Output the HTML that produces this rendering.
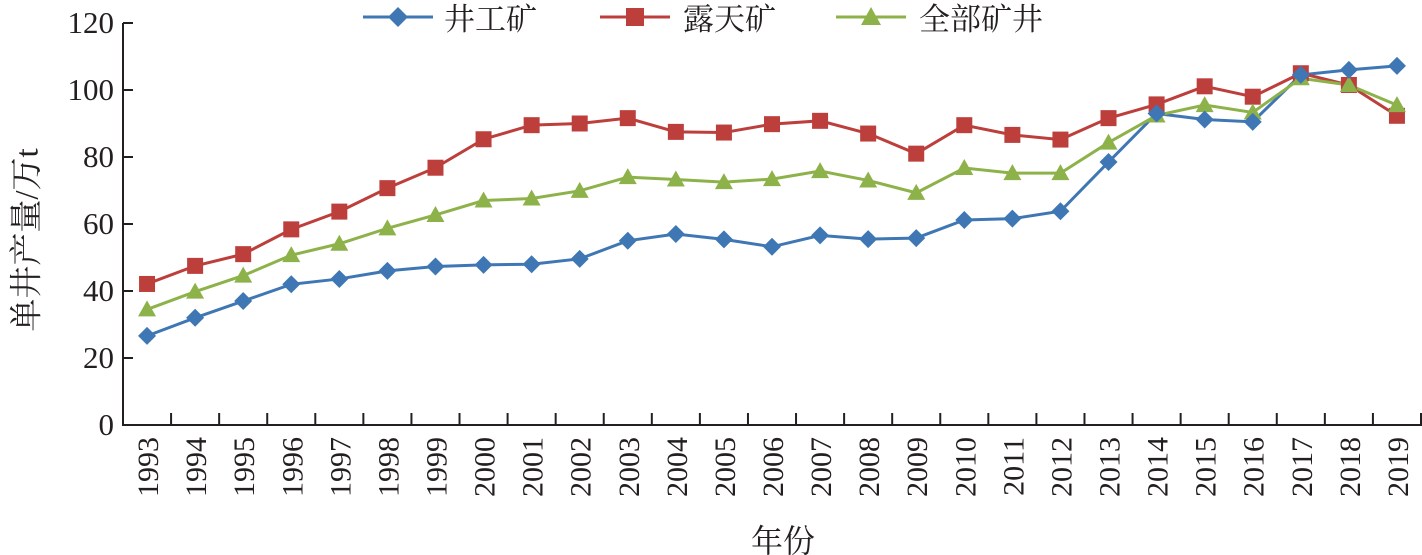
<!DOCTYPE html>
<html><head><meta charset="utf-8">
<style>
html,body{margin:0;padding:0;background:#fff;}
svg{display:block;}
text{font-family:"Liberation Serif","Noto Serif CJK SC",serif;fill:#231f20;}
</style></head>
<body>
<svg id="c" width="1422" height="555" viewBox="0 0 1422 555" xmlns="http://www.w3.org/2000/svg">
<line x1="123" y1="23" x2="123" y2="426" stroke="#231f20" stroke-width="2"/>
<line x1="122" y1="425" x2="1422" y2="425" stroke="#231f20" stroke-width="2"/>
<text x="30" y="240" font-size="33" text-anchor="middle" transform="rotate(-90 30 240)" dominant-baseline="middle">单井产量/万t</text>
<text x="783" y="552" font-size="32" text-anchor="middle">年份</text>
<g id="legend">
<line x1="363" y1="17" x2="433" y2="17" stroke="#3f77b5" stroke-width="3"/>
<polygon points="398,7 408,17 398,27 388,17" fill="#3f77b5"/>
<text x="444" y="30" font-size="31">井工矿</text>
<line x1="600" y1="17" x2="670" y2="17" stroke="#bd3f3c" stroke-width="3"/>
<rect x="626" y="8" width="18" height="18" fill="#bd3f3c"/>
<text x="683" y="30" font-size="31">露天矿</text>
<line x1="836" y1="17" x2="906" y2="17" stroke="#8db24a" stroke-width="3"/>
<polygon points="871,7 881,25 861,25" fill="#8db24a"/>
<text x="919" y="30" font-size="31">全部矿井</text>
</g>
</svg>
<script>
var s=document.getElementById('c'),ns='http://www.w3.org/2000/svg';
function el(t,a,txt){var e=document.createElementNS(ns,t);for(var k in a)e.setAttribute(k,a[k]);if(txt!=null)e.textContent=txt;s.appendChild(e);return e;}
var Y=function(v){return 425-v*3.35;};
var W=(1421-123)/27;
var X=function(i){return 123+W*(i+0.5);};
for(var v=0;v<=120;v+=20){var y=Y(v);if(v>0)el('line',{x1:123,y1:y,x2:133,y2:y,stroke:'#231f20','stroke-width':2});
el('text',{x:114,y:y+10,'font-size':31,'text-anchor':'end'},String(v));}
for(var i=1;i<=27;i++){var x=123+W*i;el('line',{x1:x,y1:413,x2:x,y2:425,stroke:'#231f20','stroke-width':2});}
for(var i=0;i<27;i++){var cx=X(i)+11;el('text',{x:0,y:0,'font-size':30,'text-anchor':'end',transform:'translate('+cx+' 437) rotate(-90)'},String(1993+i));}
var blue=[26.6,32,37,42,43.6,46,47.3,47.8,48,49.6,55,57,55.4,53.2,56.6,55.5,55.8,61.2,61.6,63.8,78.5,93,91.2,90.5,104.5,106,107.2];
var red=[42.1,47.5,51,58.4,63.7,70.7,76.8,85.3,89.5,90,91.6,87.5,87.3,89.8,90.8,87,81,89.5,86.6,85.2,91.6,95.7,101.1,98,105,101.5,92.3];
var green=[34.5,39.8,44.6,50.7,54.1,58.7,62.7,67,67.6,69.9,74,73.3,72.5,73.4,75.8,73,69.3,76.7,75.2,75.2,84.3,92.4,95.5,93.3,103.5,101.5,95.5];
function line(d,c){el('polyline',{points:d.map(function(v,i){return X(i)+','+Y(v);}).join(' '),fill:'none',stroke:c,'stroke-width':3});}
line(blue,'#3f77b5');line(red,'#bd3f3c');line(green,'#8db24a');
red.forEach(function(v,i){el('rect',{x:X(i)-8,y:Y(v)-8,width:16,height:16,fill:'#bd3f3c'});});
green.forEach(function(v,i){var x=X(i),y=Y(v);el('polygon',{points:x+','+(y-9)+' '+(x+9)+','+(y+7)+' '+(x-9)+','+(y+7),fill:'#8db24a'});});
blue.forEach(function(v,i){var x=X(i),y=Y(v);el('polygon',{points:x+','+(y-9)+' '+(x+9)+','+y+' '+x+','+(y+9)+' '+(x-9)+','+y,fill:'#3f77b5'});});
</script>
</body></html>
